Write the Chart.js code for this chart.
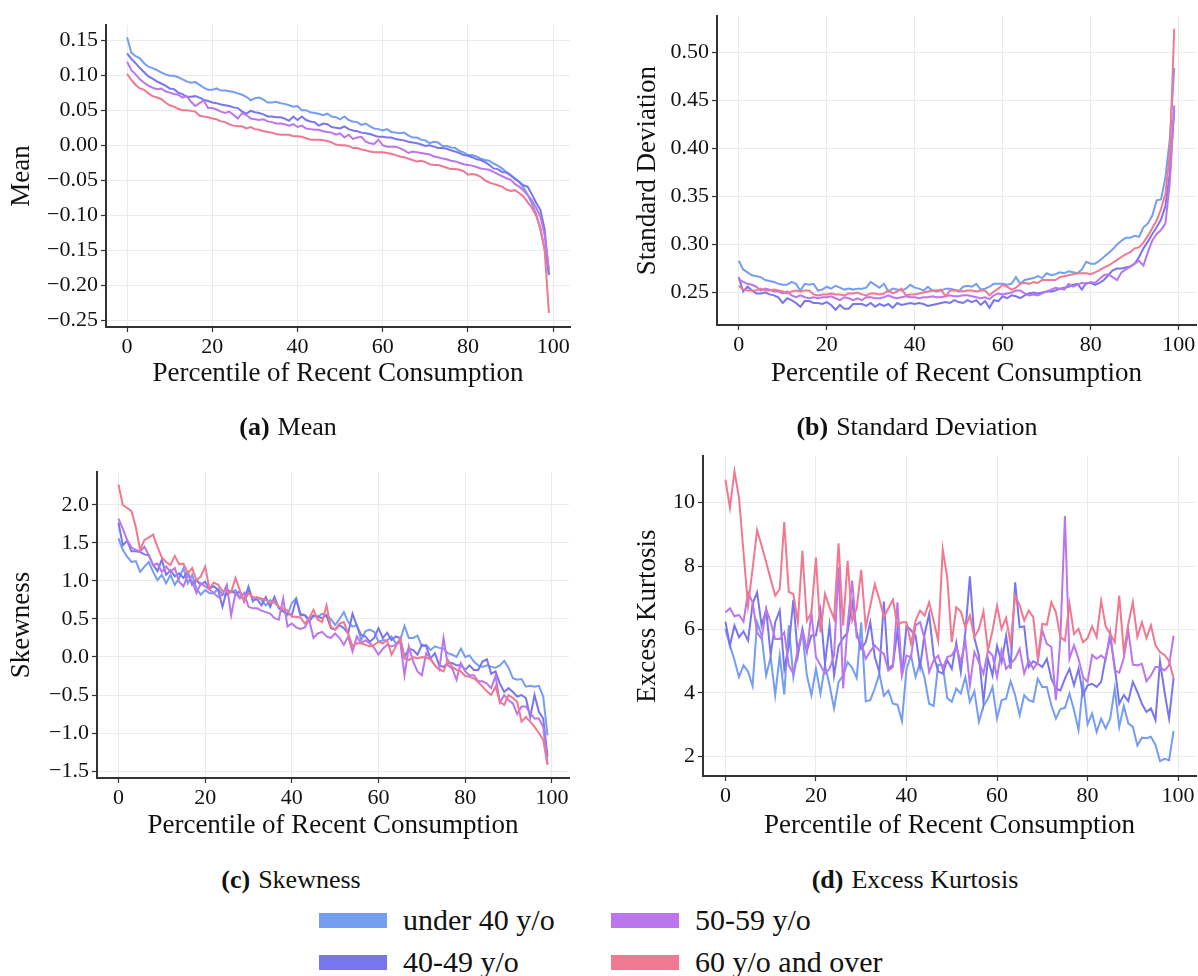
<!DOCTYPE html>
<html>
<head>
<meta charset="utf-8">
<script src="https://cdn.jsdelivr.net/npm/chart.js@4.4.1/dist/chart.umd.min.js"></script>
<style>
  body { margin: 0; background: #fff; width: 1198px; height: 976px; position: relative; overflow: hidden;
         font-family: "Liberation Serif", serif; color: #111; }
  canvas { position: absolute; }
  .cap { position: absolute; font-size: 26px; transform: translate(-50%, -50%); white-space: nowrap; }
  .cap b { margin-right: 8px; }
  .leg { position: absolute; display: flex; align-items: center; font-size: 30px; white-space: nowrap; transform: translateY(-50%); }
  .leg i { display: inline-block; width: 68px; height: 15px; margin-right: 16px; }
</style>
</head>
<body>
<canvas id="cMean" width="600" height="390" style="left:0;top:0"></canvas>
<canvas id="cStd" width="598" height="390" style="left:600px;top:0"></canvas>
<canvas id="cSkew" width="600" height="402" style="left:0;top:440px"></canvas>
<canvas id="cKurt" width="598" height="402" style="left:600px;top:440px"></canvas>

<div class="cap" style="left:288px;top:427px"><b>(a)</b>Mean</div>
<div class="cap" style="left:917px;top:427px"><b>(b)</b>Standard Deviation</div>
<div class="cap" style="left:291px;top:880px"><b>(c)</b>Skewness</div>
<div class="cap" style="left:915px;top:880px"><b>(d)</b>Excess Kurtosis</div>
<div id="legend"></div>

<script>
const percentiles = [0,1,2,3,4,5,6,7,8,9,10,11,12,13,14,15,16,17,18,19,20,21,22,23,24,25,26,27,28,29,
  30,31,32,33,34,35,36,37,38,39,40,41,42,43,44,45,46,47,48,49,50,51,52,53,54,55,56,57,58,59,
  60,61,62,63,64,65,66,67,68,69,70,71,72,73,74,75,76,77,78,79,80,81,82,83,84,85,86,87,88,89,
  90,91,92,93,94,95,96,97,98,99];

const groups = ["under 40 y/o", "40-49 y/o", "50-59 y/o", "60 y/o and over"];
const colors = ["#759df2", "#7876ee", "#bb76ee", "#f07891"];

const xTicks = [0, 20, 40, 60, 80, 100];
const meanTicks = [-0.25, -0.20, -0.15, -0.10, -0.05, 0.00, 0.05, 0.10, 0.15];
const stdTicks = [0.25, 0.30, 0.35, 0.40, 0.45, 0.50];
const skewTicks = [-1.5, -1.0, -0.5, 0.0, 0.5, 1.0, 1.5, 2.0];
const kurtTicks = [2, 4, 6, 8, 10];

// (a) mean
const meanUnder40 = [0.154,0.132,0.127,0.124,0.117,0.112,0.110,0.107,0.104,0.101,
  0.099,0.099,0.097,0.094,0.091,0.089,0.090,0.086,0.082,0.079,
  0.079,0.081,0.078,0.078,0.077,0.076,0.074,0.072,0.069,0.064,
  0.067,0.068,0.065,0.061,0.061,0.062,0.060,0.059,0.057,0.055,
  0.056,0.050,0.050,0.047,0.046,0.045,0.043,0.045,0.041,0.040,
  0.037,0.041,0.036,0.034,0.033,0.029,0.031,0.027,0.024,0.023,
  0.021,0.023,0.019,0.018,0.017,0.018,0.014,0.011,0.011,0.008,
  0.007,0.003,0.005,0.004,-0.001,-0.001,-0.003,-0.004,-0.008,-0.010,
  -0.014,-0.014,-0.016,-0.019,-0.021,-0.022,-0.026,-0.029,-0.033,-0.038,
  -0.042,-0.047,-0.052,-0.060,-0.070,-0.083,-0.098,-0.120,-0.148,-0.183];
const mean40to49 = [0.131,0.123,0.117,0.110,0.104,0.098,0.095,0.091,0.088,0.085,
  0.081,0.080,0.075,0.073,0.069,0.069,0.070,0.068,0.065,0.063,
  0.061,0.060,0.058,0.057,0.056,0.054,0.053,0.048,0.045,0.049,
  0.047,0.046,0.044,0.041,0.041,0.040,0.040,0.038,0.035,0.041,
  0.036,0.041,0.036,0.034,0.033,0.028,0.031,0.030,0.026,0.025,
  0.024,0.027,0.023,0.021,0.020,0.018,0.017,0.016,0.014,0.012,
  0.012,0.011,0.011,0.009,0.008,0.007,0.005,0.004,0.003,0.001,
  -0.001,0.000,-0.002,-0.004,-0.004,-0.005,-0.007,-0.009,-0.011,-0.014,
  -0.015,-0.017,-0.020,-0.021,-0.024,-0.028,-0.033,-0.034,-0.038,-0.039,
  -0.043,-0.048,-0.052,-0.057,-0.059,-0.070,-0.082,-0.092,-0.120,-0.185];
const mean50to59 = [0.119,0.107,0.101,0.094,0.089,0.085,0.082,0.080,0.081,0.077,
  0.075,0.073,0.072,0.068,0.070,0.062,0.056,0.060,0.064,0.053,
  0.053,0.051,0.048,0.046,0.048,0.043,0.038,0.046,0.043,0.038,
  0.037,0.036,0.037,0.034,0.033,0.031,0.031,0.030,0.028,0.030,
  0.026,0.028,0.024,0.023,0.022,0.022,0.020,0.019,0.018,0.015,
  0.017,0.011,0.015,0.009,0.011,0.012,0.005,0.003,0.002,0.008,
  0.000,-0.002,-0.002,-0.002,-0.004,-0.007,-0.011,-0.009,-0.010,-0.011,
  -0.012,-0.013,-0.016,-0.017,-0.019,-0.020,-0.022,-0.023,-0.025,-0.027,
  -0.028,-0.029,-0.031,-0.033,-0.034,-0.035,-0.038,-0.041,-0.044,-0.047,
  -0.049,-0.055,-0.059,-0.064,-0.071,-0.078,-0.089,-0.102,-0.128,-0.177];
const mean60plus = [0.102,0.093,0.086,0.081,0.079,0.074,0.070,0.068,0.066,0.061,
  0.057,0.055,0.052,0.050,0.050,0.049,0.048,0.042,0.041,0.040,
  0.038,0.037,0.034,0.033,0.030,0.028,0.027,0.027,0.024,0.026,
  0.023,0.022,0.020,0.019,0.018,0.016,0.015,0.015,0.015,0.013,
  0.013,0.012,0.010,0.008,0.008,0.008,0.007,0.006,0.004,0.001,
  0.000,0.000,-0.001,-0.004,-0.004,-0.006,-0.007,-0.009,-0.010,-0.010,
  -0.010,-0.011,-0.012,-0.014,-0.016,-0.017,-0.019,-0.021,-0.023,-0.022,
  -0.024,-0.027,-0.028,-0.028,-0.030,-0.032,-0.034,-0.034,-0.035,-0.037,
  -0.042,-0.041,-0.042,-0.045,-0.050,-0.053,-0.055,-0.057,-0.059,-0.063,
  -0.065,-0.064,-0.068,-0.073,-0.081,-0.089,-0.100,-0.118,-0.150,-0.239];

// (b) standard deviation
const stdUnder40 = [0.283,0.274,0.271,0.268,0.267,0.266,0.263,0.262,0.261,0.259,
  0.258,0.258,0.261,0.259,0.252,0.259,0.258,0.259,0.252,0.253,
  0.256,0.254,0.257,0.255,0.253,0.254,0.253,0.254,0.254,0.255,
  0.261,0.258,0.255,0.259,0.251,0.254,0.253,0.252,0.254,0.258,
  0.255,0.254,0.252,0.256,0.252,0.251,0.252,0.254,0.254,0.253,
  0.251,0.256,0.257,0.256,0.259,0.253,0.254,0.256,0.259,0.259,
  0.259,0.258,0.259,0.266,0.259,0.263,0.264,0.265,0.267,0.265,
  0.270,0.268,0.269,0.271,0.270,0.272,0.271,0.270,0.274,0.282,
  0.280,0.280,0.283,0.287,0.291,0.295,0.300,0.304,0.307,0.307,
  0.309,0.308,0.318,0.322,0.330,0.346,0.347,0.370,0.410,0.484];
const std40to49 = [0.266,0.251,0.256,0.252,0.249,0.249,0.250,0.248,0.247,0.245,
  0.239,0.244,0.242,0.239,0.235,0.241,0.241,0.239,0.239,0.238,
  0.240,0.237,0.232,0.237,0.233,0.233,0.238,0.238,0.238,0.236,
  0.239,0.235,0.238,0.236,0.238,0.234,0.239,0.237,0.238,0.239,
  0.238,0.239,0.238,0.236,0.237,0.238,0.239,0.240,0.239,0.242,
  0.240,0.239,0.242,0.240,0.242,0.237,0.241,0.234,0.242,0.241,
  0.246,0.244,0.247,0.246,0.244,0.247,0.249,0.250,0.249,0.250,
  0.251,0.251,0.252,0.254,0.255,0.256,0.258,0.259,0.253,0.260,
  0.260,0.258,0.260,0.263,0.268,0.273,0.275,0.275,0.276,0.277,
  0.280,0.287,0.296,0.303,0.311,0.318,0.326,0.340,0.375,0.440];
const std50to59 = [0.264,0.261,0.259,0.258,0.256,0.252,0.254,0.253,0.251,0.251,
  0.249,0.251,0.247,0.245,0.247,0.245,0.244,0.245,0.244,0.245,
  0.245,0.246,0.244,0.242,0.245,0.244,0.242,0.244,0.242,0.245,
  0.245,0.244,0.244,0.245,0.247,0.245,0.244,0.245,0.246,0.245,
  0.245,0.244,0.245,0.245,0.246,0.245,0.245,0.246,0.247,0.246,
  0.246,0.247,0.247,0.246,0.245,0.244,0.245,0.243,0.247,0.249,
  0.248,0.249,0.250,0.252,0.252,0.249,0.247,0.248,0.247,0.249,
  0.251,0.253,0.255,0.254,0.253,0.259,0.256,0.258,0.260,0.259,
  0.261,0.260,0.264,0.268,0.269,0.266,0.263,0.271,0.274,0.277,
  0.280,0.283,0.278,0.292,0.304,0.311,0.315,0.322,0.365,0.445];
const std60plus = [0.257,0.253,0.252,0.252,0.252,0.254,0.252,0.252,0.253,0.252,
  0.251,0.249,0.251,0.252,0.251,0.252,0.252,0.248,0.247,0.248,
  0.248,0.249,0.248,0.248,0.247,0.249,0.249,0.250,0.248,0.247,
  0.249,0.249,0.248,0.249,0.252,0.249,0.251,0.254,0.247,0.248,
  0.248,0.249,0.250,0.251,0.252,0.252,0.253,0.246,0.252,0.252,
  0.252,0.251,0.252,0.252,0.251,0.252,0.252,0.247,0.251,0.254,
  0.258,0.256,0.253,0.255,0.259,0.260,0.259,0.261,0.260,0.263,
  0.263,0.263,0.263,0.266,0.267,0.268,0.269,0.270,0.270,0.270,
  0.269,0.271,0.273,0.276,0.278,0.281,0.284,0.287,0.290,0.292,
  0.296,0.297,0.302,0.309,0.317,0.325,0.337,0.353,0.395,0.525];

// (c) skewness
const skewUnder40 = [1.56,1.41,1.32,1.25,1.26,1.12,1.19,1.25,1.12,1.01,
  1.08,0.97,1.08,0.95,1.04,1.17,0.97,1.08,0.90,0.82,
  0.88,0.84,0.84,0.90,0.82,0.82,0.86,0.88,0.79,0.77,
  0.93,0.73,0.79,0.75,0.68,0.75,0.71,0.66,0.60,0.55,
  0.71,0.77,0.57,0.55,0.50,0.55,0.53,0.57,0.55,0.50,
  0.42,0.50,0.59,0.46,0.40,0.42,0.22,0.34,0.36,0.33,
  0.20,0.22,0.22,0.27,0.18,0.22,0.41,0.25,0.25,0.28,
  0.14,0.16,0.09,0.14,0.12,0.11,0.05,0.03,0.00,0.11,
  0.00,0.02,-0.06,-0.11,-0.13,-0.11,-0.13,-0.14,-0.11,-0.05,
  -0.14,-0.28,-0.30,-0.29,-0.39,-0.38,-0.39,-0.38,-0.52,-1.03];
const skew40to49 = [1.77,1.47,1.53,1.39,1.39,1.38,1.35,1.34,1.21,1.13,
  1.28,1.08,1.14,1.06,1.10,1.04,1.12,0.95,1.01,0.95,
  0.99,0.90,0.93,0.88,0.66,0.88,0.86,0.84,0.86,0.73,
  0.90,0.75,0.76,0.68,0.79,0.66,0.79,0.64,0.60,0.57,
  0.55,0.76,0.55,0.55,0.47,0.54,0.53,0.51,0.55,0.38,
  0.36,0.42,0.38,0.31,0.57,0.41,0.29,0.27,0.20,0.25,
  0.38,0.25,0.32,0.22,0.27,0.25,0.00,0.11,0.09,0.03,
  0.16,0.14,-0.02,0.05,-0.11,-0.13,-0.08,-0.08,-0.11,-0.11,
  -0.17,-0.11,-0.17,-0.17,-0.06,-0.03,-0.22,-0.19,-0.35,-0.46,
  -0.41,-0.46,-0.52,-0.50,-0.54,-0.79,-0.50,-0.72,-0.81,-1.31];
const skew50to59 = [1.82,1.69,1.54,1.44,1.41,1.39,1.45,1.34,1.21,1.23,
  1.12,1.19,1.12,1.17,0.99,0.93,1.08,0.99,0.84,0.97,
  0.93,0.89,0.84,0.79,0.82,0.95,0.55,0.84,0.77,0.84,
  0.66,0.64,0.64,0.61,0.59,0.57,0.51,0.49,0.77,0.40,
  0.44,0.39,0.37,0.39,0.49,0.25,0.31,0.33,0.27,0.25,
  0.31,0.25,0.16,0.27,0.07,0.27,0.18,0.22,0.18,0.12,
  0.03,0.11,0.16,0.14,0.16,0.20,-0.24,0.14,-0.06,-0.19,
  -0.24,0.05,-0.02,-0.11,-0.17,0.25,-0.11,-0.15,-0.30,-0.08,
  -0.19,-0.24,-0.24,-0.32,-0.32,-0.35,-0.41,-0.25,-0.60,-0.50,
  -0.57,-0.61,-0.75,-0.65,-0.65,-0.74,-0.81,-0.81,-0.92,-1.41];
const skew60plus = [2.27,2.00,1.96,1.92,1.71,1.41,1.54,1.57,1.61,1.45,
  1.31,1.25,1.21,1.33,1.22,1.23,1.10,1.17,1.01,1.06,
  1.19,0.90,0.98,0.95,0.87,0.86,0.85,1.04,0.88,0.73,
  0.84,0.79,0.78,0.77,0.75,0.71,0.74,0.66,0.64,0.61,
  0.53,0.53,0.52,0.44,0.51,0.62,0.49,0.46,0.68,0.40,
  0.36,0.44,0.46,0.31,0.14,0.18,0.18,0.16,0.14,0.16,
  0.20,0.18,0.22,0.03,0.14,0.25,-0.02,-0.04,0.00,-0.02,
  0.00,-0.01,-0.03,-0.11,-0.16,-0.19,-0.04,-0.13,-0.17,-0.19,
  -0.25,-0.26,-0.28,-0.33,-0.39,-0.45,-0.50,-0.39,-0.59,-0.63,
  -0.50,-0.54,-0.59,-0.85,-0.79,-0.85,-0.92,-1.00,-1.09,-1.42];

// (d) excess kurtosis
const kurtUnder40 = [6.02,5.50,5.03,4.50,4.87,4.68,4.22,6.23,5.81,4.55,
  5.13,3.93,5.18,3.95,6.13,4.50,5.29,5.91,4.55,3.93,
  4.76,3.98,4.87,4.24,3.51,4.35,4.55,4.97,4.79,4.47,
  6.23,3.74,3.77,4.14,4.61,3.91,4.08,3.66,3.63,3.11,
  4.76,5.18,4.50,4.97,4.47,3.66,3.59,4.89,4.87,3.84,
  3.72,4.14,3.98,4.50,3.72,4.05,3.09,3.59,3.82,4.19,
  3.19,3.77,3.82,4.37,3.93,3.30,3.93,3.77,3.72,4.45,
  4.19,4.19,3.61,3.19,3.49,3.53,3.98,3.46,2.83,4.29,
  3.01,3.35,2.77,3.19,2.88,3.19,4.14,2.93,3.59,3.04,
  2.93,2.34,2.59,2.57,2.62,2.36,1.85,1.92,1.88,2.80];
const kurt40to49 = [6.25,5.50,6.13,5.76,5.94,5.65,6.81,7.17,6.13,6.63,
  5.20,6.23,6.60,4.76,5.45,6.94,5.18,6.02,5.34,5.81,
  5.81,6.60,4.92,6.13,4.55,5.48,5.73,5.91,6.86,5.91,
  5.39,5.60,6.23,5.13,4.66,6.88,4.76,4.89,5.97,4.55,
  6.13,5.97,5.81,4.82,5.86,6.49,5.18,4.68,4.61,5.03,
  4.76,5.58,4.66,5.91,7.68,5.73,5.18,3.72,5.08,4.55,
  5.48,4.97,5.81,4.76,7.49,6.07,6.10,4.82,5.00,4.92,
  4.82,5.08,4.45,4.14,4.08,4.45,4.76,4.24,4.76,3.93,
  4.24,4.29,4.19,4.35,5.13,5.76,4.82,3.66,3.93,3.74,
  4.35,4.03,3.66,3.40,3.51,3.14,5.00,4.03,3.19,4.47];
const kurt50to59 = [6.54,6.67,6.42,6.46,6.25,7.17,6.86,5.91,5.70,6.65,
  6.23,5.70,5.70,5.91,4.87,4.61,5.39,5.91,5.29,6.54,
  5.13,4.87,4.61,4.76,5.18,7.96,4.14,6.18,7.54,5.76,
  5.60,5.08,5.31,5.50,5.34,5.24,4.71,4.82,6.86,4.55,
  5.18,5.13,6.13,6.23,5.70,4.66,5.03,5.18,4.76,5.13,
  5.18,5.45,4.97,5.65,4.24,5.29,4.97,4.61,5.34,5.18,
  4.50,5.34,4.76,4.92,5.08,5.39,4.61,5.03,4.76,4.97,
  5.97,5.55,5.45,3.77,5.76,9.58,5.08,5.50,5.08,4.50,
  4.35,5.20,5.08,5.18,5.06,5.91,4.71,4.64,5.10,5.97,
  4.89,4.87,4.92,4.37,4.55,4.82,4.82,4.71,4.87,5.81];
const kurt60plus = [10.73,9.84,10.99,10.16,8.43,6.75,7.91,9.14,8.64,8.12,
  7.59,7.07,7.28,9.39,7.19,7.12,6.23,8.48,6.28,6.54,
  8.27,5.91,7.12,6.70,6.34,8.72,6.13,8.17,6.28,6.67,
  7.88,6.07,6.75,7.43,6.96,6.39,6.67,6.94,6.13,6.23,
  6.23,5.55,6.28,6.60,6.44,6.86,6.28,5.65,8.53,7.64,
  5.60,6.70,6.57,6.07,6.44,5.76,6.02,6.57,5.34,5.97,
  6.75,6.02,6.37,5.55,7.07,6.77,6.28,6.60,6.39,5.08,
  6.18,6.15,6.86,6.54,5.76,5.65,6.81,5.86,6.02,5.60,
  5.73,6.10,5.76,6.91,6.10,5.86,5.60,7.07,5.29,6.18,
  6.86,5.76,6.23,5.73,6.13,5.50,5.29,5.20,5.00,4.47];

const FONT = "'Liberation Serif', serif";
const INK = '#111';

function fmt(v, d) {
  return (v < 0 ? '\u2212' : '') + Math.abs(v).toFixed(d);
}

function makePanel(id, series, o) {
  const ctx = document.getElementById(id).getContext('2d');
  const datasets = series.map((s, k) => ({
    label: groups[k],
    data: s.map((v, i) => ({ x: percentiles[i], y: v })),
    borderColor: colors[k],
    borderWidth: 2,
    pointRadius: 0,
    tension: 0,
    order: series.length - k, // last group drawn on top
  }));
  const grid = { color: '#ebebeb', lineWidth: 1, tickLength: 5, tickColor: '#333', tickWidth: 1.2 };
  const border = { display: true, color: '#333', width: 2 };
  return new Chart(ctx, {
    type: 'line',
    data: { datasets: datasets },
    options: {
      responsive: false,
      animation: false,
      layout: { padding: { top: o.top, right: o.right, left: 0, bottom: 0 } },
      plugins: { legend: { display: false }, tooltip: { enabled: false } },
      scales: {
        x: {
          type: 'linear', min: -4.95, max: 103.95,
          afterBuildTicks: s => { s.ticks = xTicks.map(v => ({ value: v })); },
          afterFit: s => { s.height = o.xh; },
          grid: grid, border: border,
          ticks: { color: INK, padding: 2, maxRotation: 0, font: { family: FONT, size: 22 }, callback: v => String(v) },
          title: { display: true, text: 'Percentile of Recent Consumption', color: INK,
                   font: { family: FONT, size: 27 }, padding: { top: 0, bottom: 0 } }
        },
        y: {
          type: 'linear', min: o.ymin, max: o.ymax,
          afterBuildTicks: s => { s.ticks = o.yTicks.map(v => ({ value: v })); },
          afterFit: s => { s.width = o.yw; },
          grid: grid, border: border,
          ticks: { color: INK, padding: 3, font: { family: FONT, size: 22 }, callback: v => fmt(v, o.dec) },
          title: { display: true, text: o.title, color: INK,
                   font: { family: FONT, size: 27 }, padding: { top: o.ypt, bottom: 0 } }
        }
      }
    }
  });
}

makePanel('cMean', [meanUnder40, mean40to49, mean50to59, mean60plus],
  { top: 25, right: 30, xh: 63, yw: 106, ymin: -0.259, ymax: 0.1714, yTicks: meanTicks, dec: 2, title: 'Mean', ypt: 6 });
makePanel('cStd', [stdUnder40, std40to49, std50to59, std60plus],
  { top: 14, right: 2, xh: 65, yw: 117, ymin: 0.2161, ymax: 0.538, yTicks: stdTicks, dec: 2, title: 'Standard Deviation', ypt: 32 });
makePanel('cSkew', [skewUnder40, skew40to49, skew50to59, skew60plus],
  { top: 32, right: 31, xh: 64, yw: 97, ymin: -1.592, ymax: 2.434, yTicks: skewTicks, dec: 1, title: 'Skewness', ypt: 6 });
makePanel('cKurt', [kurtUnder40, kurt40to49, kurt50to59, kurt60plus],
  { top: 15, right: 2, xh: 66, yw: 103, ymin: 1.38, ymax: 11.467, yTicks: kurtTicks, dec: 0, title: 'Excess Kurtosis', ypt: 32 });

// shared legend, two columns
const legendPos = [[319, 920], [319, 962], [611, 920], [611, 962]];
const legend = document.getElementById('legend');
groups.forEach((g, k) => {
  const el = document.createElement('div');
  el.className = 'leg';
  el.style.left = legendPos[k][0] + 'px';
  el.style.top = legendPos[k][1] + 'px';
  el.innerHTML = '<i style="background:' + colors[k] + '"></i>' + g;
  legend.appendChild(el);
});
</script>
</body>
</html>
